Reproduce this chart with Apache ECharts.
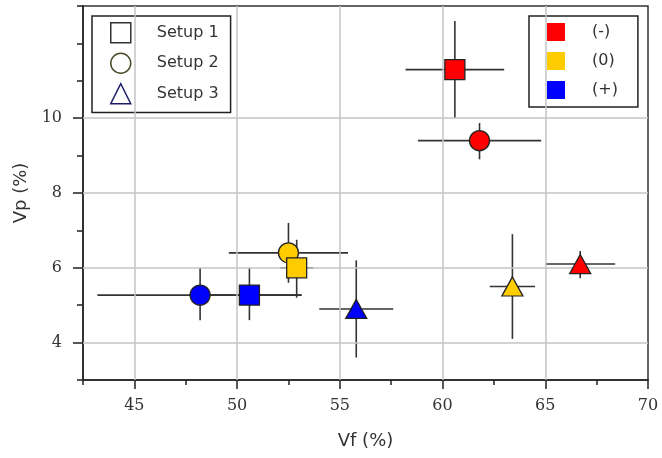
<!DOCTYPE html>
<html>
<head>
<meta charset="utf-8">
<script src="https://cdn.jsdelivr.net/npm/echarts@6/dist/echarts.min.js"></script>
<style>html,body{margin:0;padding:0;background:#fff;}#chart{width:662px;height:458px;}</style>
</head>
<body>
<div id="chart"></div>
<script>
// ---- data (index = Setup 1, Setup 2, Setup 3) ----
const setups = ['Setup 1', 'Setup 2', 'Setup 3'];
const levels = ['(-)', '(0)', '(+)'];

const vfMinus     = [60.6, 61.8, 66.7];
const vfMinusLow  = [58.2, 58.8, 65.0];
const vfMinusHigh = [63.0, 64.8, 68.4];
const vpMinus     = [11.3, 9.4, 6.1];
const vpMinusLow  = [10.0, 8.9, 5.72];
const vpMinusHigh = [12.6, 9.87, 6.45];

const vfZero      = [52.9, 52.5, 63.4];
const vfZeroLow   = [52.1, 49.6, 62.3];
const vfZeroHigh  = [53.7, 55.4, 64.5];
const vpZero      = [6.0, 6.4, 5.5];
const vpZeroLow   = [5.2, 5.6, 4.1];
const vpZeroHigh  = [6.75, 7.2, 6.9];

const vfPlus      = [50.6, 48.2, 55.8];
const vfPlusLow   = [48.4, 43.2, 54.0];
const vfPlusHigh  = [53.15, 53.1, 57.6];
const vpPlus      = [5.27, 5.27, 4.9];
const vpPlusLow   = [4.6, 4.6, 3.6];
const vpPlusHigh  = [6.0, 6.0, 6.2];

const xTickLabels = [45, 50, 55, 60, 65, 70];
const yTickLabels = [4, 6, 8, 10];
const xGridValues = [45, 50, 55, 60, 65];
const yGridValues = [4, 6, 8, 10];

// ---- styles ----
const levelColors = ['#ff0000', '#ffcc00', '#0000ff'];
const setupSymbols = ['rect', 'circle', 'triangle'];
const setupSizes = [20, 20, [21, 19]];
const setupLegendBorder = ['#333333', '#4d4a2a', '#1c1c6b'];

const levelArrays = [
  [vfMinus, vpMinus, vfMinusLow, vfMinusHigh, vpMinusLow, vpMinusHigh],
  [vfZero, vpZero, vfZeroLow, vfZeroHigh, vpZeroLow, vpZeroHigh],
  [vfPlus, vpPlus, vfPlusLow, vfPlusHigh, vpPlusLow, vpPlusHigh]
];

const errData = [];
levelArrays.forEach(function (arrs) {
  for (let s = 0; s < setups.length; s++) {
    errData.push([arrs[0][s], arrs[1][s], arrs[2][s], arrs[3][s], arrs[4][s], arrs[5][s]]);
  }
});

const chart = echarts.init(document.getElementById('chart'), null, { renderer: 'canvas' });

const serifFont = 'DejaVu Serif';
const sansFont = 'DejaVu Sans';

const series = [];

// grid lines
series.push({
  name: 'gridlines',
  type: 'scatter',
  data: [],
  z: 1,
  silent: true,
  markLine: {
    silent: true,
    symbol: ['none', 'none'],
    label: { show: false },
    lineStyle: { color: '#c4c4c4', width: 1.5, type: 'solid' },
    emphasis: { disabled: true },
    animation: false,
    data: xGridValues.map(function (v) { return { xAxis: v }; })
      .concat(yGridValues.map(function (v) { return { yAxis: v }; }))
  }
});

// error bars
series.push({
  name: 'errorbars',
  type: 'custom',
  z: 3,
  silent: true,
  encode: { x: 0, y: 1 },
  data: errData,
  renderItem: function (params, api) {
    const x = api.value(0), y = api.value(1);
    const pL = api.coord([api.value(2), y]);
    const pH = api.coord([api.value(3), y]);
    const pB = api.coord([x, api.value(4)]);
    const pT = api.coord([x, api.value(5)]);
    const style = { stroke: '#333333', lineWidth: 1.6, fill: null };
    return {
      type: 'group',
      children: [
        { type: 'line', shape: { x1: pL[0], y1: pL[1], x2: pH[0], y2: pH[1] }, style: style },
        { type: 'line', shape: { x1: pB[0], y1: pB[1], x2: pT[0], y2: pT[1] }, style: style }
      ]
    };
  }
});

// markers, one series per setup
setups.forEach(function (name, s) {
  series.push({
    name: name,
    type: 'scatter',
    symbol: setupSymbols[s],
    symbolSize: setupSizes[s],
    z: s === 0 ? 6 : 5,
    itemStyle: { borderColor: '#222222', borderWidth: 1.3, opacity: 1 },
    data: levelArrays.map(function (arrs, l) {
      return { value: [arrs[0][s], arrs[1][s]], itemStyle: { color: levelColors[l] } };
    })
  });
});

// colour legend entries
levels.forEach(function (name, l) {
  series.push({ name: name, type: 'scatter', data: [], itemStyle: { color: levelColors[l], opacity: 1 } });
});

const axisLabelX = {
  customValues: xTickLabels,
  formatter: function (v) { return xTickLabels.indexOf(v) >= 0 ? String(v) : ''; },
  fontFamily: serifFont, fontSize: 16, color: '#333', margin: 18
};
const axisLabelY = {
  customValues: yTickLabels,
  formatter: function (v) { return yTickLabels.indexOf(v) >= 0 ? String(v) : ''; },
  fontFamily: serifFont, fontSize: 16, color: '#333', margin: 21
};

const option = {
  backgroundColor: '#ffffff',
  animation: false,
  grid: {
    left: 83, right: 14, top: 6, bottom: 78,
    show: true, borderColor: '#333333', borderWidth: 1.5, backgroundColor: 'transparent'
  },
  xAxis: [{
    type: 'value', min: 42.5, max: 70, interval: 2.5, position: 'bottom',
    name: 'Vf (%)', nameLocation: 'middle', nameGap: 52,
    nameTextStyle: { fontFamily: sansFont, fontSize: 18, color: '#333' },
    axisLine: { show: true, onZero: false, lineStyle: { color: '#222', width: 1.5 } },
    axisTick: { show: true, inside: false, length: 5, lineStyle: { color: '#222', width: 1.5 } },
    axisLabel: axisLabelX,
    splitLine: { show: false }
  }, {
    type: 'value', min: 42.5, max: 70, position: 'bottom', offset: 0,
    axisLine: { show: false },
    axisTick: { show: true, inside: false, length: 9, customValues: xTickLabels, lineStyle: { color: '#222', width: 1.5 } },
    axisLabel: { show: false },
    splitLine: { show: false }
  }],
  yAxis: [{
    type: 'value', min: 3, max: 13, interval: 1, position: 'left',
    name: 'Vp (%)', nameLocation: 'middle', nameGap: 52,
    nameTextStyle: { fontFamily: sansFont, fontSize: 18, color: '#333' },
    axisLine: { show: true, onZero: false, lineStyle: { color: '#222', width: 1.5 } },
    axisTick: { show: true, inside: false, length: 6, lineStyle: { color: '#222', width: 1.5 } },
    axisLabel: axisLabelY,
    splitLine: { show: false }
  }, {
    type: 'value', min: 3, max: 13, position: 'left', offset: 0,
    axisLine: { show: false },
    axisTick: { show: true, inside: false, length: 10, customValues: yTickLabels, lineStyle: { color: '#222', width: 1.5 } },
    axisLabel: { show: false },
    splitLine: { show: false }
  }],
  legend: [{
    orient: 'vertical', left: 92, top: 16,
    padding: [6, 12, 8, 18],
    itemWidth: 20, itemHeight: 20, itemGap: 9,
    borderColor: '#222', borderWidth: 1.5, backgroundColor: '#fff',
    selectedMode: false,
    textStyle: { fontFamily: sansFont, fontSize: 16, color: '#333', padding: [0, 0, 0, 21] },
    data: setups.map(function (name, s) {
      return {
        name: name,
        icon: setupSymbols[s],
        itemStyle: { color: '#ffffff', borderColor: setupLegendBorder[s], borderWidth: 1.5, opacity: 1 }
      };
    })
  }, {
    orient: 'vertical', left: 529, top: 16,
    padding: [7, 20, 8, 18],
    itemWidth: 18, itemHeight: 18, itemGap: 11,
    borderColor: '#222', borderWidth: 1.5, backgroundColor: '#fff',
    selectedMode: false,
    textStyle: { fontFamily: sansFont, fontSize: 16, color: '#333', padding: [0, 0, 0, 22] },
    data: levels.map(function (name, l) {
      return { name: name, icon: 'rect', itemStyle: { color: levelColors[l], borderWidth: 0, opacity: 1 } };
    })
  }],
  series: series
};

chart.setOption(option);
</script>
</body>
</html>
